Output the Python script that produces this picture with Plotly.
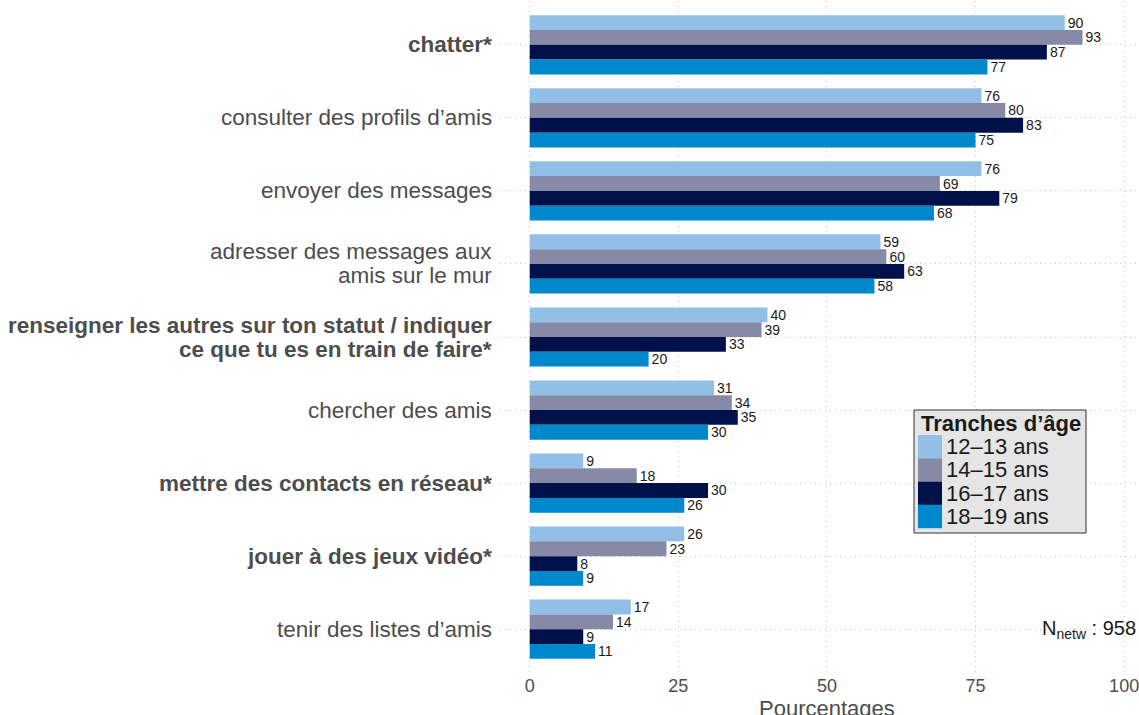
import plotly.graph_objects as go

# Activités sur les réseaux sociaux, par tranche d'âge (en %)
categories = [
    "chatter*",
    "consulter des profils d’amis",
    "envoyer des messages",
    "adresser des messages aux amis sur le mur",
    "renseigner les autres sur ton statut / indiquer ce que tu es en train de faire*",
    "chercher des amis",
    "mettre des contacts en réseau*",
    "jouer à des jeux vidéo*",
    "tenir des listes d’amis",
]
# label lines as printed on the axis, and which labels are set in bold
label_lines = [
    ["chatter*"],
    ["consulter des profils d’amis"],
    ["envoyer des messages"],
    ["adresser des messages aux", "amis sur le mur"],
    ["renseigner les autres sur ton statut / indiquer", "ce que tu es en train de faire*"],
    ["chercher des amis"],
    ["mettre des contacts en réseau*"],
    ["jouer à des jeux vidéo*"],
    ["tenir des listes d’amis"],
]
label_bold = [True, False, False, False, True, False, True, True, False]

series_names = ["12–13 ans", "14–15 ans", "16–17 ans", "18–19 ans"]
age_12_13 = [90, 76, 76, 59, 40, 31, 9, 26, 17]
age_14_15 = [93, 80, 69, 60, 39, 34, 18, 23, 14]
age_16_17 = [87, 83, 79, 63, 33, 35, 30, 8, 9]
age_18_19 = [77, 75, 68, 58, 20, 30, 26, 9, 11]
series_values = [age_12_13, age_14_15, age_16_17, age_18_19]
series_colors = ["#92BFE6", "#878AA6", "#00114A", "#0088CC"]

x_ticks = [0, 25, 50, 75, 100]
legend_title = "Tranches d’âge"
x_title = "Pourcentages"
sample_note = "N<sub>netw</sub> : 958"

FONT = "Liberation Sans, Arial, Helvetica, sans-serif"
W, H = 1139, 715
M_L, M_R, M_T, M_B = 500, 0, 1, 42
GRID = "#C4C4C4"

fig = go.Figure()
for name, vals, col in zip(series_names, series_values, series_colors):
    fig.add_trace(go.Bar(
        y=categories, x=vals, name=name, orientation="h",
        marker=dict(color=col, line=dict(width=0)),
        text=vals, texttemplate="%{text}", textposition="outside",
        constraintext="none", cliponaxis=False,
        textfont=dict(size=14, color="#1a1a1a", family=FONT),
        showlegend=False,
    ))

# pixel -> paper helpers for the hand-built legend box
plot_w = W - M_L - M_R
plot_h = H - M_T - M_B


def px(x):
    return (x - M_L) / plot_w


def py(y):
    return (H - M_B - y) / plot_h


shapes = []
annotations = []

# category labels, drawn line by line for a tight line spacing
LINE_STEP = 24
for cat, lines, bold in zip(categories, label_lines, label_bold):
    n = len(lines)
    for k, line in enumerate(lines):
        txt = "<b>" + line + "</b>" if bold else line
        annotations.append(dict(
            text=txt, xref="paper", yref="y", x=px(494), y=cat,
            xanchor="right", yanchor="middle", showarrow=False,
            yshift=-(k - (n - 1) / 2) * LINE_STEP,
            font=dict(size=22.5, color="#4D4D4D", family=FONT)))

# legend panel
shapes.append(dict(type="rect", xref="paper", yref="paper",
                   x0=px(914), x1=px(1086), y0=py(533), y1=py(410),
                   fillcolor="#E5E5E5", line=dict(color="#333333", width=1),
                   layer="above"))
annotations.append(dict(text="<b>" + legend_title + "</b>", xref="paper", yref="paper",
                        x=px(919), y=py(423), xanchor="left", yanchor="middle",
                        showarrow=False, font=dict(size=22, color="#1a1a1a", family=FONT)))
row_h = 23.3
for i, (name, col) in enumerate(zip(series_names, series_colors)):
    top = 435 + i * row_h
    shapes.append(dict(type="rect", xref="paper", yref="paper",
                       x0=px(918), x1=px(942), y0=py(top + row_h), y1=py(top),
                       fillcolor=col, line=dict(width=0), layer="above"))
    annotations.append(dict(text=name, xref="paper", yref="paper",
                            x=px(944), y=py(top + row_h / 2), xanchor="left", yanchor="middle",
                            showarrow=False, font=dict(size=22, color="#1a1a1a", family=FONT)))

# axis title centred on the 0–100 scale
annotations.append(dict(text=x_title, xref="x", yref="paper", x=50, y=py(694),
                        xanchor="center", yanchor="top", showarrow=False,
                        font=dict(size=22, color="#4D4D4D", family=FONT)))

# sample size note
annotations.append(dict(text=sample_note, xref="paper", yref="y",
                        x=px(1138), y=categories[-1], xanchor="right", yanchor="middle",
                        showarrow=False, font=dict(size=20, color="#1a1a1a", family=FONT)))

fig.update_layout(
    width=W, height=H,
    margin=dict(l=M_L, r=M_R, t=M_T, b=M_B, pad=0),
    paper_bgcolor="white", plot_bgcolor="white",
    barmode="group", bargap=0.19, bargroupgap=0,
    font=dict(family=FONT, color="#4D4D4D"),
    shapes=shapes, annotations=annotations,
    showlegend=False,
    xaxis=dict(range=[-5, 102.5], tickvals=x_ticks, ticktext=[str(v) for v in x_ticks],
               showgrid=True, gridcolor=GRID, griddash="1px,4px", gridwidth=1,
               zeroline=False, showline=False, ticks="", ticklabeloverflow="allow",
               tickfont=dict(size=18, color="#4D4D4D", family=FONT)),
    yaxis=dict(categoryorder="array", categoryarray=categories,
               range=[len(categories) - 0.4, -0.6], showticklabels=False,
               showgrid=True, gridcolor=GRID, griddash="1px,4px", gridwidth=1,
               zeroline=False, showline=False, ticks=""),
)

fig.write_html("out.html")
